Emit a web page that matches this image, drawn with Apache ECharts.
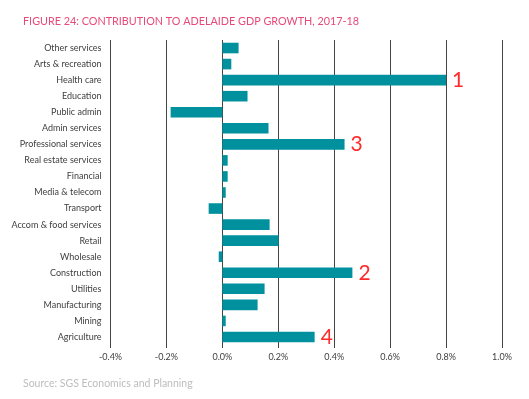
<!DOCTYPE html>
<html>
<head>
<meta charset="utf-8">
<style>
    html,body{margin:0;padding:0;background:#fff;}
    #chart{width:529px;height:399px;}
</style>
</head>
<body>
<div id="chart"></div>
<script src="https://cdn.jsdelivr.net/npm/echarts@6/dist/echarts.min.js"></script>
<script>
    // industries, top to bottom
    var categories = ['Other services', 'Arts & recreation', 'Health care', 'Education', 'Public admin',
        'Admin services', 'Professional services', 'Real estate services', 'Financial', 'Media & telecom',
        'Transport', 'Accom & food services', 'Retail', 'Wholesale', 'Construction', 'Utilities',
        'Manufacturing', 'Mining', 'Agriculture'];
    // contribution to growth, %
    var values = [0.058, 0.032, 0.80, 0.09, -0.185, 0.165, 0.437, 0.019, 0.019, 0.012,
        -0.049, 0.169, 0.201, -0.013, 0.465, 0.151, 0.126, 0.012, 0.33];
    // red rank numbers next to the bars
    var ranks = ['', '', '1', '', '', '', '3', '', '', '', '', '', '', '', '2', '', '', '', '4'];
    var tickLabels = ['-0.4%', '-0.2%', '0.0%', '0.2%', '0.4%', '0.6%', '0.8%', '1.0%'];

    var font = 'Lato';
    var barData = values.map(function (v, i) {
        return {
            value: v,
            label: {show: ranks[i] !== '', formatter: ranks[i]}
        };
    });

    var myChart = echarts.init(document.getElementById('chart'));
    var option = {
        animation: false,
        title: [{
            text: 'FIGURE 24: CONTRIBUTION TO ADELAIDE GDP GROWTH, 2017-18',
            left: 18, top: 11,
            textStyle: {color: '#E8497A', fontSize: 10.8, fontWeight: 'normal', fontFamily: font}
        }, {
            text: 'Source: SGS Economics and Planning',
            left: 18, top: 373,
            textStyle: {color: '#BDBDBD', fontSize: 10.5, fontWeight: 'normal', fontFamily: font}
        }],
        grid: {left: 110.5, right: 27, top: 40, bottom: 54},
        xAxis: {
            type: 'value',
            min: -0.4,
            max: 1.0,
            interval: 0.2,
            axisLine: {show: false},
            axisTick: {show: true, length: 3, lineStyle: {color: '#444'}},
            splitLine: {show: true, lineStyle: {color: '#444', width: 1}},
            axisLabel: {
                color: '#404040', fontSize: 9, fontFamily: font, margin: 8,
                formatter: function (v) {
                    return tickLabels[Math.round((v + 0.4) / 0.2)];
                }
            }
        },
        yAxis: {
            type: 'category',
            inverse: true,
            data: categories,
            axisLine: {show: false},
            axisTick: {show: false},
            axisLabel: {color: '#404040', fontSize: 9, fontFamily: font, margin: 9}
        },
        series: [{
            type: 'bar',
            data: barData,
            barCategoryGap: '34%',
            itemStyle: {color: '#00909E'},
            label: {position: 'right', distance: 6, color: '#FF2A2A', fontSize: 21, fontFamily: font}
        }]
    };
    myChart.setOption(option);
</script>
</body>
</html>
